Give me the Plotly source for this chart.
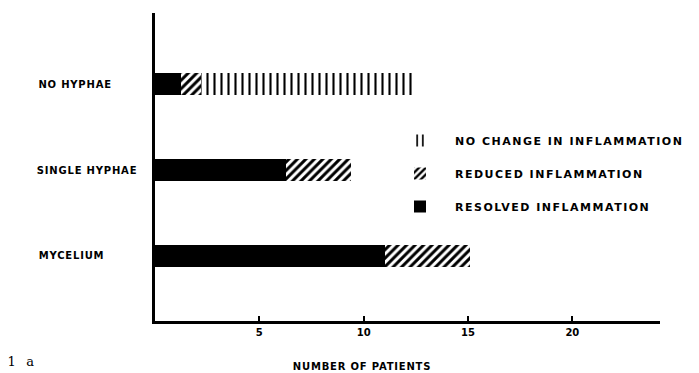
import plotly.graph_objects as go

categories = ["NO HYPHAE", "SINGLE HYPHAE", "MYCELIUM"]
resolved = [1.25, 6.3, 11.0]
reduced = [0.95, 3.1, 4.1]
no_change = [10.1, 0, 0]
x_ticks = [5, 10, 15, 20]

FONT = "DejaVu Sans"

fig = go.Figure()
fig.add_trace(go.Bar(
    y=categories, x=resolved, orientation="h", name="RESOLVED INFLAMMATION",
    legendgroup="a", legendrank=3,
    marker=dict(color="black", line=dict(width=0)),
))
fig.add_trace(go.Bar(
    y=categories, x=reduced, orientation="h", name="REDUCED INFLAMMATION",
    legendgroup="b", legendrank=2,
    marker=dict(color="white", line=dict(width=0),
                pattern=dict(shape="/", fgcolor="black", bgcolor="white",
                             size=6, solidity=0.5, fillmode="replace")),
))
fig.add_trace(go.Bar(
    y=categories, x=no_change, orientation="h", name="NO CHANGE IN INFLAMMATION",
    legendgroup="c", legendrank=1,
    marker=dict(color="white", line=dict(width=0),
                pattern=dict(shape="|", fgcolor="black", bgcolor="white",
                             size=7, solidity=0.3, fillmode="replace")),
))

for c in categories:
    fig.add_annotation(x=0, xref="paper", xshift=-115, y=c, yref="y",
                       text=c, showarrow=False, xanchor="left",
                       font=dict(family=FONT, size=10, color="black", weight="bold"))

fig.add_annotation(x=(362 - 155) / 505, xref="paper", y=0, yref="paper", yshift=-45,
                   text="NUMBER OF PATIENTS", showarrow=False, yanchor="middle",
                   font=dict(family=FONT, size=10, color="black", weight="bold"))

fig.add_annotation(x=0, xref="paper", xshift=-134, y=0, yref="paper", yshift=-40,
                   text="1  a", showarrow=False, xanchor="center", yanchor="middle",
                   font=dict(family="DejaVu Serif", size=13, color="black"))

fig.update_layout(
    width=699, height=373,
    margin=dict(l=155, r=39, t=13, b=52),
    paper_bgcolor="white", plot_bgcolor="white",
    barmode="stack", bargap=0.74,
    showlegend=True,
    legend=dict(x=(385 - 155) / 505, y=(321 - 126) / 308, xanchor="left", yanchor="top",
                traceorder="grouped", tracegroupgap=14, itemwidth=60,
                bgcolor="rgba(0,0,0,0)",
                font=dict(family=FONT, size=11, color="black", weight="bold")),
    xaxis=dict(range=[0, 24.2], tickvals=x_ticks, ticktext=[str(v) for v in x_ticks],
               ticks="inside", ticklen=5, tickwidth=2, tickcolor="black",
               showline=True, linecolor="black", linewidth=3, showgrid=False,
               zeroline=False,
               tickfont=dict(family=FONT, size=10, color="black", weight="bold")),
    yaxis=dict(type="category", categoryarray=categories, range=[2.76, -0.83],
               showticklabels=False, ticks="", showline=True, linecolor="black",
               linewidth=3, showgrid=False, zeroline=False),
)

post = """
document.body.style.margin='0';
var gd=document.getElementById('{plot_id}');
gd.querySelectorAll('.legendtext').forEach(function(t){t.style.letterSpacing='1.5px';});
gd.querySelectorAll('.legend .scrollbox').forEach(function(s){s.removeAttribute('clip-path');});
gd.querySelectorAll('.annotation-text').forEach(function(t){t.style.letterSpacing='0.8px';});
"""

fig.write_html("out.html", post_script=post, config={"displayModeBar": False})
